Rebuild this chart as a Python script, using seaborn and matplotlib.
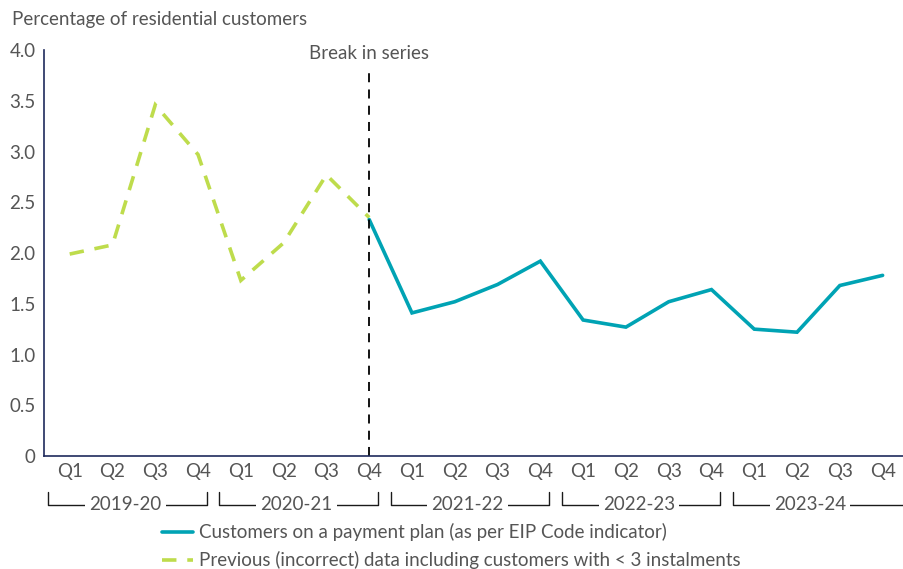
import matplotlib
matplotlib.use("Agg")
import matplotlib.pyplot as plt
import matplotlib.transforms as mtransforms
from matplotlib.lines import Line2D
import numpy as np
import pandas as pd
import seaborn as sns

sns.set_style("white")
plt.rcParams["font.family"] = ["Lato", "DejaVu Sans"]

quarters = ["Q1", "Q2", "Q3", "Q4"] * 5
years = ["2019-20", "2020-21", "2021-22", "2022-23", "2023-24"]

# previous (incorrect) series: 2019-20 Q1 .. 2020-21 Q4
old_vals = [1.99, 2.08, 3.46, 2.97, 1.73, 2.10, 2.77, 2.35]
# EIP Code indicator series: 2020-21 Q4 .. 2023-24 Q4
new_vals = [2.33, 1.41, 1.52, 1.69, 1.92, 1.34, 1.27, 1.52, 1.64,
            1.25, 1.22, 1.68, 1.78]
break_idx = 7

lbl_new = "Customers on a payment plan (as per EIP Code indicator)"
lbl_old = "Previous (incorrect) data including customers with < 3 instalments"

TEAL = "#00A3B4"
GREEN = "#BEDC4C"
NAVY = "#1F2A5C"
GREY = "#555555"
FS = 13.5

df_old = pd.DataFrame({"pos": np.arange(len(old_vals)), "val": old_vals})
df_new = pd.DataFrame({"pos": np.arange(break_idx, break_idx + len(new_vals)),
                       "val": new_vals})

fig = plt.figure(figsize=(9.04, 5.69), dpi=100)
ax = fig.add_axes([0.0487, 0.1986, 0.9513, 0.7134])

sns.lineplot(data=df_old, x="pos", y="val", ax=ax, color=GREEN, lw=2.6,
             sort=False)
old_line = ax.lines[-1]
old_line.set_dashes((4, 3))
old_line.set_dash_joinstyle("miter")
old_line.set_dash_capstyle("butt")
sns.lineplot(data=df_new, x="pos", y="val", ax=ax, color=TEAL, lw=2.6,
             sort=False)
ax.lines[-1].set_solid_joinstyle("miter")

ax.vlines(break_idx, 0, 3.82, colors="black", linestyles=(0, (5, 4)), lw=1.3)
ax.text(break_idx, 3.88, "Break in series", ha="center", va="bottom",
        fontsize=FS, color=GREY)

ax.set_xlim(-0.6, 19.5)
ax.set_ylim(0, 4)
ax.set_yticks(np.arange(0, 4.01, 0.5))
ax.set_yticklabels(["0"] + [f"{v:.1f}" for v in np.arange(0.5, 4.01, 0.5)])
ax.set_xticks(range(len(quarters)))
ax.set_xticklabels(quarters)
ax.tick_params(axis="both", length=0, labelsize=FS, labelcolor=GREY)
ax.tick_params(axis="y", pad=6)
ax.tick_params(axis="x", pad=5)
ax.set_xlabel("")
ax.set_ylabel("")

for side in ["top", "right"]:
    ax.spines[side].set_visible(False)
for side in ["left", "bottom"]:
    ax.spines[side].set_color(NAVY)
    ax.spines[side].set_linewidth(1.2)

fig.text(12 / 904, 1 - 20 / 569, "Percentage of residential customers",
         ha="left", va="center", fontsize=FS, color=GREY)

# year brackets under the quarter labels
trans = mtransforms.blended_transform_factory(ax.transData, fig.transFigure)
y_line = 1 - 505 / 569
y_top = 1 - 492 / 569
last = len(years) - 1
for g, yr in enumerate(years):
    left = 4 * g - 0.5
    right = 4 * g + 3.2
    if g == last:
        xs, ys = [left, left, right + 0.5], [y_top, y_line, y_line]
    else:
        xs, ys = [left, left, right, right], [y_top, y_line, y_line, y_top]
    ax.add_line(Line2D(xs, ys, transform=trans, color="#1a1a1a", lw=1.0,
                       clip_on=False))
    ax.text((left + right) / 2 - 0.05, y_line, yr, transform=trans,
            ha="center", va="center", fontsize=FS, color=GREY,
            bbox=dict(facecolor="white", edgecolor="none", pad=3),
            clip_on=False)

handles = [Line2D([], [], color=TEAL, lw=2.6),
           Line2D([], [], color=GREEN, lw=2.6, dashes=(4, 3))]
fig.legend(handles, [lbl_new, lbl_old], loc="upper left",
           bbox_to_anchor=(162 / 904, 1 - 523 / 569), frameon=False,
           fontsize=FS, labelcolor=GREY, handlelength=1.65, handletextpad=0.35,
           labelspacing=0.55, borderaxespad=0, borderpad=0)

fig.savefig("out.png", dpi=100)
